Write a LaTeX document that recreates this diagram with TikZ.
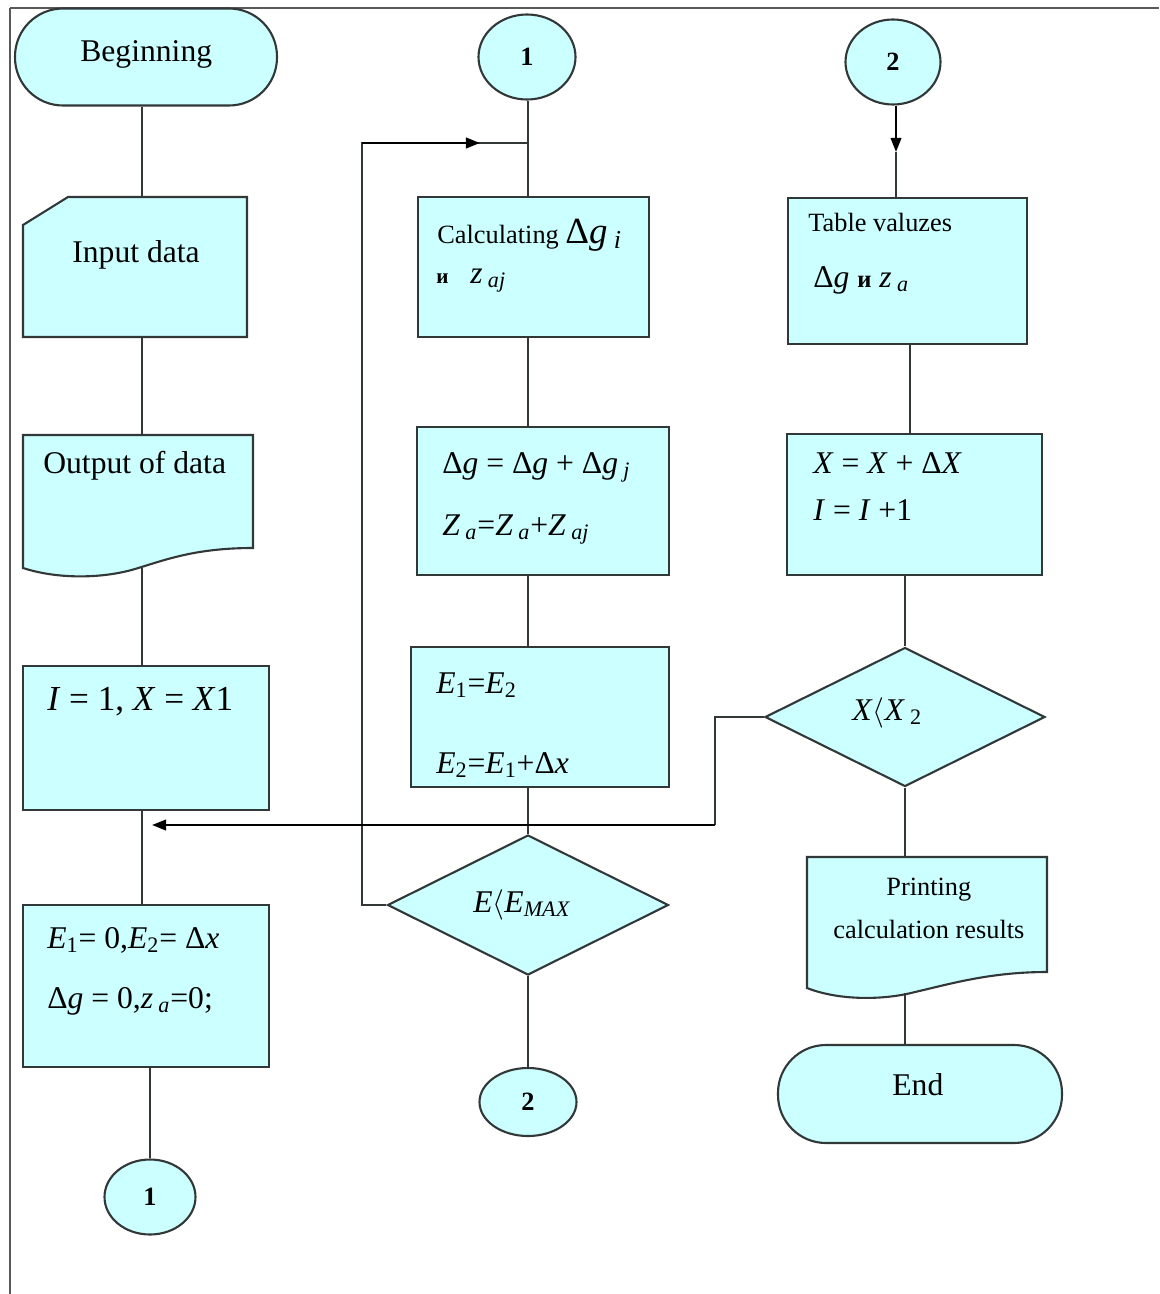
\documentclass[tikz,border=0pt]{standalone}
\usepackage{fontspec}
\setmainfont{Liberation Serif}
\usetikzlibrary{shapes.geometric,arrows.meta}
\definecolor{boxfill}{RGB}{204,255,255}
\definecolor{edge}{RGB}{50,55,55}
\newcommand\mi[1]{\textit{#1}}
\newcommand\sbs[1]{\textsubscript{\textit{#1}}}
\newcommand\pw[1]{#1*0.02cm}
\begin{document}
\begin{tikzpicture}[x=0.02cm,y=-0.02cm,
 shp/.style={draw=edge,line width=1.2pt,fill=boxfill},
 box/.style={shp,rectangle,inner sep=0pt},
 anc/.style={rectangle,inner sep=0pt},
 circ/.style={shp,ellipse,inner sep=0pt,font=\bfseries\fontsize{15}{18}\selectfont},
 conn/.style={draw=edge,line width=1.2pt},
 tip/.style={-{Triangle[length=8pt,width=6pt]},line width=1.2pt,draw=black},
 txt/.style={inner sep=0pt,anchor=base west,text=black},
 fa/.style={font=\fontsize{18}{21}\selectfont},
 fb/.style={font=\fontsize{15}{18}\selectfont},
 fc/.style={font=\fontsize{20}{24}\selectfont},
]
\useasboundingbox (0,0) rectangle (1159,1294);
% frame
\draw[gray!70!black,line width=1.2pt] (10,1294) -- (10,8);
\draw[gray!70!black,line width=1.6pt] (10,8) -- (1159,8);

% column coordinates
\coordinate (colA) at (142,0);
\coordinate (colA2) at (150,0);
\coordinate (colB) at (528,0);
\coordinate (colC) at (896,0);
\coordinate (colC2) at (910,0);
\coordinate (colC3) at (905,0);

% ---------- left column ----------
\node[box,rounded corners=0.96cm,minimum width=\pw{262},minimum height=\pw{97}] (nBeg) at (146,57) {};
\path[shp] (23,225) -- (68,197) -- (247,197) -- (247,337) -- (23,337) -- cycle;
\node[anc,minimum width=\pw{224},minimum height=\pw{140}] (nIn) at (135,267) {};
\path[shp] (23,435) -- (253,435) -- (253,548) .. controls (195,548) and (165,560) .. (135,569) .. controls (105,578) and (60,580) .. (23,568) -- cycle;
\node[anc,minimum width=\pw{230},minimum height=\pw{133}] (nOut) at (138,501.5) {};
\node[box,minimum width=\pw{246},minimum height=\pw{144}] (nI1) at (146,738) {};
\node[box,minimum width=\pw{246},minimum height=\pw{162}] (nE0) at (146,986) {};
\node[circ,minimum width=\pw{91},minimum height=\pw{75}] (nC1b) at (150,1197) {1};

% ---------- middle column ----------
\node[circ,minimum width=\pw{97},minimum height=\pw{85}] (nC1t) at (527,57) {1};
\node[box,minimum width=\pw{231},minimum height=\pw{140}] (nCalc) at (533.5,267) {};
\node[box,minimum width=\pw{252},minimum height=\pw{148}] (nDg) at (543,501) {};
\node[box,minimum width=\pw{258},minimum height=\pw{140}] (nE12) at (540,717) {};
\node[shp,diamond,inner sep=0pt,minimum width=\pw{281},minimum height=\pw{140}] (nDE) at (528,905) {};
\node[circ,minimum width=\pw{97},minimum height=\pw{68}] (nC2b) at (528,1102) {2};

% ---------- right column ----------
\node[circ,minimum width=\pw{95},minimum height=\pw{85}] (nC2t) at (893,62) {2};
\node[box,minimum width=\pw{239},minimum height=\pw{146}] (nTab) at (907.5,271) {};
\node[box,minimum width=\pw{255},minimum height=\pw{141}] (nX) at (914.5,504.5) {};
\node[shp,diamond,inner sep=0pt,minimum width=\pw{280},minimum height=\pw{139}] (nDX) at (905,717) {};
\path[shp] (807,857) -- (1047,857) -- (1047,972) .. controls (990,972) and (950,984) .. (915,992) .. controls (885,1000) and (840,1001) .. (807,988) -- cycle;
\node[anc,minimum width=\pw{240},minimum height=\pw{136}] (nPr) at (927,925) {};
\node[box,rounded corners=0.96cm,minimum width=\pw{284},minimum height=\pw{98}] (nEnd) at (920,1094) {};

% ---------- connectors ----------
\draw[conn] (nBeg.south -| colA) -- (nIn.north -| colA);
\draw[conn] (nIn.south -| colA) -- (nOut.north -| colA);
\draw[conn] (nOut.south -| colA) -- (nI1.north -| colA);
\draw[conn] (nI1.south -| colA) -- (nE0.north -| colA);
\draw[conn] (nE0.south -| colA2) -- (nC1b.north);

\draw[conn] (nC1t.south -| colB) -- (nCalc.north -| colB);
\draw[conn] (nCalc.south -| colB) -- (nDg.north -| colB);
\draw[conn] (nDg.south -| colB) -- (nE12.north -| colB);
\draw[conn] (nE12.south -| colB) -- (nDE.north);
\draw[conn] (nDE.south) -- (nC2b.north);

\coordinate (kLoopB) at (362,905);
\coordinate (kLoopT) at (362,143);
\coordinate (kJoin) at (528,143);
\coordinate (kMidTip) at (480,143);
\draw[conn] (nDE.west) -- (kLoopB) -- (kLoopT) -- (kJoin);
\draw[tip] (kLoopT) -- (kMidTip);

\coordinate (kTipC) at (896,152);
\draw[tip] (nC2t.south -| colC) -- (kTipC);
\draw[conn] (kTipC) -- (nTab.north -| colC);
\draw[conn] (nTab.south -| colC2) -- (nX.north -| colC2);
\draw[conn] (nX.south -| colC3) -- (nDX.north);
\draw[conn] (nDX.south) -- (nPr.north -| colC3);
\draw[conn] (nPr.south -| colC3) -- (nEnd.north -| colC3);

\coordinate (kLeft) at (715,825);
\coordinate (kTipA) at (152,825);
\draw[conn] (nDX.west) -- (nDX.west -| kLeft) -- (kLeft);
\draw[tip] (kLeft) -- (kTipA);

% ---------- texts ----------
\node[txt,fa] (tBeg) at (80,62) {Beginning};
\node[txt,fa] (tIn) at (72,262) {Input data};
\node[txt,fa] (tOut) at (43,473) {Output of data};
\node[txt,fc] (tI1) at (47,710) {\mi{I} = 1, \mi{X} = \mi{X}1};
\node[txt,fa] (tE0a) at (47,948) {\mi{E}\textsubscript{1}= 0,\mi{E}\textsubscript{2}= Δ\mi{x}};
\node[txt,fa] (tE0b) at (47,1008) {Δ\mi{g} = 0,\mi{z}\,\sbs{a}=0;};

\node[txt,fb] (tCa) at (437,243) {Calculating {\fontsize{21}{24}\selectfont Δ\mi{g}\,\sbs{i}}};
\node[txt,font=\bfseries\fontsize{12}{14}\selectfont] (tCb1) at (436,283) {и};
\node[txt,fa] (tCb2) at (470,283) {\mi{z}\,\sbs{aj}};
\node[txt,fa] (tDg1) at (442,473) {Δ\mi{g} = Δ\mi{g} + Δ\mi{g}\,\sbs{j}};
\node[txt,fa] (tDg2) at (442,535) {\mi{Z}\,\sbs{a}=\mi{Z}\,\sbs{a}+\mi{Z}\,\sbs{aj}};
\node[txt,fa] (tE1) at (436,693) {\mi{E}\textsubscript{1}=\mi{E}\textsubscript{2}};
\node[txt,fa] (tE2) at (436,773) {\mi{E}\textsubscript{2}=\mi{E}\textsubscript{1}+Δ\mi{x}};
\node[txt,fa] (tDE) at (473,912) {\mi{E}$\langle$\mi{E}\sbs{MAX}};

\node[txt,fb] (tTa) at (808,232) {Table valuzes};
\node[txt,fa] (tTb) at (813,287) {Δ\mi{g} {\bfseries\fontsize{14}{16}\selectfont и} \mi{z}\,\sbs{a}};
\node[txt,fa] (tX1) at (813,473) {\mi{X} = \mi{X} + Δ\mi{X}};
\node[txt,fa] (tX2) at (813,520) {\mi{I} = \mi{I} +1};
\node[txt,fa] (tDX) at (852,720) {\mi{X}$\langle$\mi{X}\,\textsubscript{2}};
\node[txt,fb] (tPr1) at (886,895) {Printing};
\node[txt,fb] (tPr2) at (833,938) {calculation results};
\node[txt,fa] (tEnd) at (892,1095) {End};
\end{tikzpicture}
\end{document}
